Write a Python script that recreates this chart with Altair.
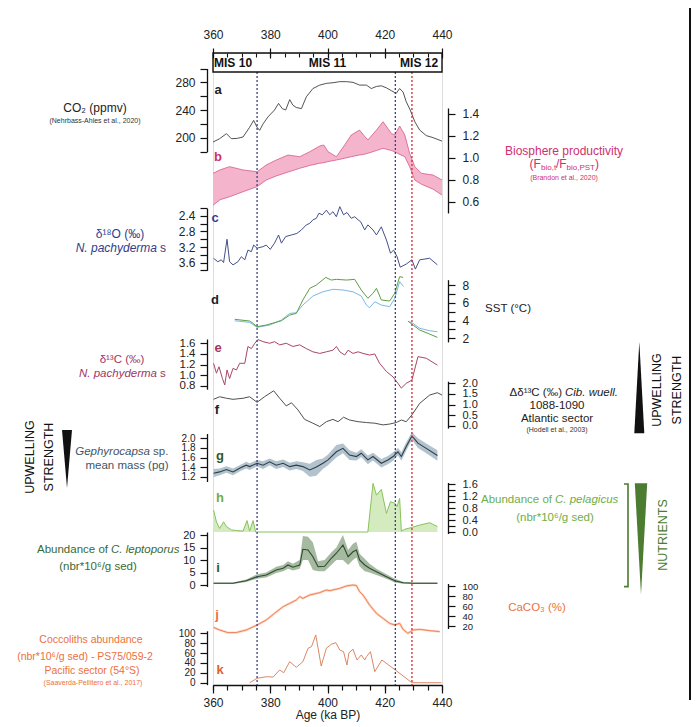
import json
import altair as alt
import pandas as pd

FONT = "Liberation Sans, Arial, DejaVu Sans, sans-serif"
X0, Y0 = 213, 53          # page position of the plot origin
W, H = 229, 632

# ---------------- data ----------------
co2_age = [360, 362.3, 364.7, 366.4, 368.5, 370.5, 372.8, 374.2, 375.4, 376.3, 377.5, 379.2, 381.5, 382.9, 384.2,
           385.4, 386.8, 387.9, 389.1, 390.9, 392.6, 394.9, 397.3, 399.6, 401.9, 404.3, 406.6, 408.9, 411.2, 413.6,
           415.3, 417.1, 418.8, 420.6, 422.3, 424.0, 425.2, 426.4, 427.5, 428.9, 430.5, 432.2, 434.5, 436.9, 440]
co2_val = [193.6, 198.5, 205.8, 198.5, 199, 201, 215, 225, 215, 210.6, 220, 230, 240, 249.5, 242,
           240, 255, 247, 243.6, 242, 259, 271, 276, 278.5, 279.4, 281, 281, 280, 276, 276,
           271, 274, 275, 272, 268, 264, 271, 266, 252, 240, 223, 211, 203, 200, 195]

bio_age = [360, 362.5, 365.8, 370.5, 375.4, 378.6, 382.1, 386.2, 390.3, 393.8, 397.3, 398.7, 400.2, 403.1, 406,
           408.3, 411.2, 412.6, 414.1, 417.1, 419.4, 422.3, 423.5, 425.2, 427, 428.7, 430.5, 432.8, 436.9, 440]
bio_hi = [0.859, 0.89, 0.919, 0.889, 0.873, 0.934, 0.979, 1.024, 1.009, 1.054, 1.106, 1.115, 1.054, 1.009, 1.115,
          1.205, 1.25, 1.205, 1.16, 1.25, 1.326, 1.22, 1.205, 1.287, 1.205, 1.04, 0.919, 0.859, 0.843, 0.798]
bio_lo = [0.57, 0.62, 0.647, 0.692, 0.738, 0.798, 0.835, 0.87, 0.904, 0.93, 0.95, 0.955, 0.965, 0.979, 0.995,
          1.009, 1.025, 1.03, 1.04, 1.065, 1.085, 1.065, 1.054, 1.03, 1.009, 0.919, 0.798, 0.76, 0.715, 0.662]

d18o_age = [360.2, 361.7, 362.9, 363.7, 364.9, 365.8, 367, 368.7, 369.9, 371.1, 372.2, 373.4, 374.2, 375.4, 377.5,
            378.6, 380, 381.5, 382.9, 383.9, 385.4, 387.4, 389.3, 390.9, 392.6, 393.8, 394.9, 396.1, 397, 398.2,
            399.6, 400.8, 401.9, 403.1, 404.3, 405.6, 406.8, 408.3, 409.5, 410.7, 411.6, 413, 414.1, 415.9, 417.1,
            418.8, 420.6, 422, 423.1, 424.3, 425.4, 427.5, 429.5, 430.7, 432.2, 435.7, 438.4]
d18o_val = [3.49, 3.58, 3.53, 3.60, 3.0, 3.58, 3.66, 3.58, 3.45, 3.53, 3.28, 3.32, 3.15, 3.23, 3.19,
            3.15, 3.26, 3.10, 2.89, 3.10, 2.93, 2.89, 2.85, 2.76, 2.63, 2.59, 2.50, 2.46, 2.33, 2.37,
            2.25, 2.37, 2.29, 2.42, 2.16, 2.37, 2.31, 2.46, 2.42, 2.5, 2.55, 2.76, 2.63, 2.76, 2.89,
            2.68, 3.02, 3.36, 3.28, 3.45, 3.72, 3.64, 3.53, 3.77, 3.53, 3.49, 3.66]

sstg_age = [367.6, 372.8, 374, 375.4, 378.6, 383.9, 386.8, 389.1, 391.4, 393.8, 396.1, 399.4, 401.3, 403.1, 406.6,
            409.5, 411.8, 414.1, 415.9, 417.1, 418.8, 421.7, 423.5, 425.2, 426.4, 428.1, 429.9, 432.2, 435.7, 438.4]
sstg_val = [4.14, 3.95, 3.69, 3.31, 3.50, 3.98, 4.62, 4.81, 6.32, 7.63, 8.0, 8.86, 8.56, 8.64, 8.56,
            8.64, 7.44, 6.51, 7.07, 7.63, 6.32, 6.20, 7.07, 8.94, 8.86, 3.95, 3.50, 2.94, 2.48, 2.11]
sstb_age = [367.6, 372.8, 375.4, 379.8, 383.9, 386.8, 389.1, 391.4, 394.9, 398.4, 401.9, 405.4, 408.9, 411.8,
            413.6, 414.7, 416.5, 418.8, 421.7, 423.5, 425.2, 426.6, 428.5, 429.9, 432.2, 435.7, 438.4]
sstb_val = [3.98, 3.80, 3.24, 3.50, 4.06, 4.81, 4.88, 5.75, 6.76, 7.24, 7.52, 7.44, 7.24, 6.76,
            5.75, 5.44, 6.12, 5.75, 5.56, 6.51, 8.38, 7.82, 3.87, 3.69, 3.13, 2.86, 2.74]

d13c_age = [360.2, 361.2, 362.1, 363.3, 364.1, 364.9, 365.8, 367, 368.2, 369.3, 371.1, 372.2, 373.4, 374.6, 375.7,
            377.5, 379.8, 381.5, 383.3, 385.6, 387.9, 390.3, 392.6, 394.9, 397.3, 399.6, 401.9, 403.1, 404.3, 406,
            407.2, 408.9, 410.7, 412.4, 414.7, 416.5, 418.2, 420.6, 422.9, 424.6, 425.8, 427.5, 429.5, 431.6, 434.5,
            438.4]
d13c_val = [1.225, 1.04, 1.16, 0.94, 0.82, 1.1, 0.94, 1.13, 1.1, 1.225, 1.225, 1.54, 1.5, 1.6, 1.67,
            1.63, 1.6, 1.63, 1.57, 1.6, 1.54, 1.57, 1.5, 1.44, 1.41, 1.44, 1.47, 1.54, 1.44, 1.38,
            1.47, 1.41, 1.44, 1.41, 1.38, 1.40, 1.225, 1.07, 0.97, 0.85, 0.76, 0.85, 0.91, 1.35, 1.32,
            1.19]

dd13c_age = [360.2, 362.3, 364.7, 367, 370.5, 372.8, 375.4, 378, 381.2, 383.3, 385.6, 387.4, 389.7, 392, 394.9,
             397.3, 399.6, 401.9, 403.7, 405.6, 407.7, 410.7, 413.6, 416.5, 419.4, 421.7, 424, 425.8, 427.5, 429.5,
             432.2, 435.7, 438.4, 440]
dd13c_val = [1.25, 1.37, 1.3, 1.25, 1.3, 1.37, 1.11, 1.37, 1.65, 1.3, 0.94, 1.09, 0.75, 0.31, 0.13,
             -0.03, 0.2, 0.31, 0.2, 0.41, 0.28, 0.2, 0.16, 0.13, 0.05, 0.09, 0.16, 0.28, 0.2, 0.52,
             1.06, 1.45, 1.56, 1.45]

geph_age = [360.2, 362.3, 364.7, 367, 369.3, 371.6, 372.8, 375.4, 377.5, 379.8, 382.1, 384.5, 386.8, 389.1, 391.4,
            393.8, 396.1, 398.4, 400.2, 403.1, 405.4, 407.7, 410.1, 411.8, 414.1, 415.9, 418.8, 421.1, 422.9, 424.6,
            425.8, 427.5, 429.5, 431.6, 434.5, 438.4]
geph_val = [1.27, 1.30, 1.35, 1.30, 1.375, 1.44, 1.41, 1.48, 1.44, 1.51, 1.44, 1.48, 1.41, 1.44, 1.41,
            1.34, 1.40, 1.48, 1.55, 1.72, 1.79, 1.65, 1.62, 1.69, 1.55, 1.62, 1.48, 1.55, 1.62, 1.72,
            1.62, 1.83, 2.05, 1.90, 1.79, 1.64]
geph_hi = [1.36, 1.37, 1.42, 1.37, 1.44, 1.51, 1.48, 1.55, 1.52, 1.58, 1.52, 1.56, 1.49, 1.52, 1.50,
           1.47, 1.55, 1.58, 1.66, 1.86, 1.89, 1.75, 1.70, 1.77, 1.64, 1.70, 1.57, 1.63, 1.71, 1.80,
           1.71, 1.92, 2.13, 2.00, 1.89, 1.75]
geph_lo = [1.19, 1.23, 1.28, 1.23, 1.31, 1.37, 1.34, 1.41, 1.36, 1.44, 1.36, 1.40, 1.33, 1.36, 1.32,
           1.20, 1.22, 1.36, 1.44, 1.60, 1.69, 1.55, 1.54, 1.61, 1.46, 1.54, 1.39, 1.46, 1.53, 1.64,
           1.53, 1.74, 1.97, 1.80, 1.69, 1.53]

pel_age = [360.2, 361.2, 362.3, 363.7, 364.7, 366.4, 368.2, 370.5, 371.9, 372.8, 374, 374.9, 414.1, 415.9, 417.1,
           418.8, 420.6, 422, 423.5, 424.3, 425.2, 425.8, 427, 429.3, 432.2, 435.7, 438.4]
pel_val = [0.73, 0.34, 0.12, 0.34, 0.18, 0.07, 0.05, 0.03, 0.38, 0.03, 0.38, 0.0, 0.0, 1.62, 1.23,
           1.42, 0.62, 1.01, 0.96, 0.85, 1.12, 0.03, 0.09, 0.15, 0.23, 0.31, 0.18]

lep_age = [360.2, 367, 371.6, 375.4, 378.6, 382.1, 384.5, 386.2, 387.9, 390.3, 391.4, 393.2, 394.9, 396.7, 399,
           401.3, 403.1, 405.4, 407.2, 408.9, 410.1, 411.2, 413, 414.7, 417.1, 420.6, 423.5, 426.4, 429.9, 438.4]
lep_val = [0.7, 0.7, 1.7, 3.3, 4, 6, 6.7, 8, 7.1, 8, 14.3, 14, 11.3, 7.3, 7.5,
           10.7, 12.7, 16, 11.3, 13.3, 14, 10, 8, 6.7, 5.3, 3.3, 1.7, 0.9, 0.7, 0.7]
lep_hi = [1.0, 1.0, 2.2, 4.3, 5.0, 7.3, 8.0, 9.5, 8.5, 10.0, 19.6, 19.3, 17.0, 9.5, 10.0,
          13.0, 15.0, 20.0, 14.0, 16.5, 17.3, 12.5, 10.5, 8.5, 6.5, 4.3, 2.5, 1.3, 1.0, 1.0]
lep_lo = [0.4, 0.4, 1.2, 2.5, 3.0, 4.8, 5.5, 6.5, 5.8, 6.5, 10.0, 10.0, 6.0, 5.5, 5.5,
          8.0, 10.0, 10.0, 8.0, 10.0, 11.0, 7.5, 5.5, 5.0, 4.0, 2.5, 1.0, 0.5, 0.4, 0.4]

caco3_age = [360.2, 362.3, 365.2, 368.2, 371.6, 375.4, 378.6, 381.5, 384.5, 386.8, 389.1, 390.3, 391.4, 393.8,
             397.3, 399.6, 400.8, 404.3, 406.6, 408.9, 410.1, 411.2, 412.4, 414.7, 417.1, 419.4, 421.7, 423.5,
             425.2, 426.4, 428.1, 429.9, 432.2, 435.7, 439.2]
caco3_val = [17.3, 12, 6.7, 7, 12, 22, 32, 45.3, 58.7, 65.3, 72, 78.7, 75.3, 82,
             86.7, 92, 90.7, 95.3, 100, 102, 101, 88.7, 82, 62, 45.3, 35.3, 25.3, 22,
             25.3, 13.3, 5.3, 12, 13.3, 10.7, 8.7]

cocco_age = [372.8, 375.4, 378.6, 381, 383.3, 384.7, 386.8, 389.1, 391.4, 393.2, 394.4, 395.9, 397.8, 399.6, 401.3,
             402.9, 404.3, 405.6, 406.8, 407.5, 408.9, 410.3, 411.8, 413, 413.6, 415, 416.5, 419, 423.7, 429.5,
             432.2, 439.8]
cocco_val = [0, 8.9, 12.1, 11.5, 25.7, 20.2, 42.5, 31.2, 42.5, 69.6, 72.9, 96.6, 33.8, 69.6, 77.7,
             81, 66.2, 62.8, 35.8, 60.7, 67.6, 46, 56.1, 46, 52.6, 62.8, 22.3, 46, 25.7, 0,
             0, 0]

mis_labels = ["MIS 10", "MIS 11", "MIS 12"]
mis_age = [367, 400, 432]
boundary_age = [375.4, 423.7, 429.5]
boundary_color = ["#3a3f8a", "#3a3f8a", "#d8262a"]

x_major = [360, 380, 400, 420, 440]
x_minor = [360, 365, 370, 375, 380, 385, 390, 395, 400, 405, 410, 415, 420, 425, 430, 435, 440]

co2_ticks = [180, 200, 220, 240, 260, 280, 300]
co2_labels = ["200", "240", "280"]
bio_ticks = [0.6, 0.8, 1.0, 1.2, 1.4]
bio_labels = ["0.6", "0.8", "1.0", "1.2", "1.4"]
d18o_ticks = [2.2, 2.4, 2.6, 2.8, 3.0, 3.2, 3.4, 3.6, 3.8]
d18o_labels = ["2.4", "2.8", "3.2", "3.6"]
sst_ticks = [2, 3, 4, 5, 6, 7, 8]
sst_labels = ["2", "4", "6", "8"]
d13c_ticks = [0.8, 1.0, 1.2, 1.4, 1.6]
d13c_labels = ["0.8", "1.0", "1.2", "1.4", "1.6"]
dd13c_ticks = [0.0, 0.5, 1.0, 1.5, 2.0]
dd13c_labels = ["0.0", "0.5", "1.0", "1.5", "2.0"]
geph_ticks = [1.2, 1.4, 1.6, 1.8, 2.0]
geph_labels = ["1.2", "1.4", "1.6", "1.8", "2.0"]
pel_ticks = [0.0, 0.2, 0.4, 0.6, 0.8, 1.0, 1.2, 1.4, 1.6]
pel_labels = ["0.0", "0.4", "0.8", "1.2", "1.6"]
lep_ticks = [0, 5, 10, 15, 20]
lep_labels = ["0", "5", "10", "15", "20"]
caco3_ticks = [20, 40, 60, 80, 100]
caco3_labels = ["20", "40", "60", "80", "100"]
cocco_ticks = [0, 20, 40, 60, 80, 100]
cocco_labels = ["0", "20", "40", "60", "80", "100"]

# colours
PINK = "#d0306e"
NAVY = "#2f3c8c"
MAROON = "#a23561"
SLATE = "#3f5566"
DKGREEN = "#3a6a34"
LTGREEN = "#6fae45"
ORANGE = "#ec7040"
NUTGREEN = "#4b7c2f"

# ---------------- helpers ----------------
XS = alt.Scale(domain=[360, 440], nice=False, zero=False)


def ys(domain, page_lo, page_hi):
    return alt.Scale(domain=domain, range=[page_lo - Y0, page_hi - Y0], nice=False, zero=False)


def yaxis(side, ticks, labels, fmt, size=11):
    expr = "indexof(" + json.dumps(labels) + ", datum.label) >= 0 ? datum.label : ''"
    return alt.Axis(orient=side, offset=6, values=ticks, format=fmt, labelExpr=expr, title=None, grid=False,
                    tickSize=7, labelPadding=5 if side == "left" else 7, labelFontSize=size, labelFont=FONT,
                    labelColor="#222", domainColor="#111", tickColor="#111", domainWidth=1.3, tickWidth=1.2,
                    labelOverlap=False, labelBaseline="middle")


def X(field="age", axis=None):
    return alt.X(field + ":Q", scale=XS, axis=axis)


def frame(age, **cols):
    d = {"age": age}
    d.update(cols)
    return pd.DataFrame(d)


def line(df, field, scale, color, width=1.0, axis=None, detail=None, opacity=1.0):
    enc = dict(x=X(), y=alt.Y(field + ":Q", scale=scale, axis=axis))
    if detail:
        enc["detail"] = detail
    return alt.Chart(df).mark_line(color=color, strokeWidth=width, opacity=opacity).encode(**enc)


def band(df, hi, lo, scale, color, axis=None, opacity=1.0):
    return alt.Chart(df).mark_area(color=color, opacity=opacity).encode(
        x=X(), y=alt.Y(hi + ":Q", scale=scale, axis=axis), y2=alt.Y2(lo + ":Q"))


def ann(rows, align="center", style="normal", weight="normal", angle=0):
    df = pd.DataFrame(rows, columns=["t", "x", "y", "c", "s"])
    df["x"] = df["x"] - X0
    df["y"] = df["y"] - Y0
    return alt.Chart(df).mark_text(align=align, baseline="middle", fontStyle=style, fontWeight=weight,
                                   angle=angle, font=FONT).encode(
        x=alt.X("x:Q", scale=None, axis=None), y=alt.Y("y:Q", scale=None, axis=None),
        text=alt.Text("t:N"), color=alt.Color("c:N", scale=None, legend=None),
        size=alt.Size("s:Q", scale=None, legend=None))


def glyph(path, cx, cy, span, color, filled=True, width=1.5):
    df = pd.DataFrame({"x": [cx - X0], "y": [cy - Y0], "s": [span * span]})
    mk = alt.Chart(df).mark_point(shape=path, filled=filled, opacity=1, color=color,
                                  strokeWidth=0 if filled else width)
    return mk.encode(x=alt.X("x:Q", scale=None, axis=None), y=alt.Y("y:Q", scale=None, axis=None),
                     size=alt.Size("s:Q", scale=None, legend=None))


layers = []

# a: CO2
s_a = ys([180, 300], 151.5, 68.5)
layers.append(line(frame(co2_age, v=co2_val), "v", s_a, "#404040", 0.9,
                   axis=yaxis("left", co2_ticks, co2_labels, "d", 12)))

# b: biosphere productivity
s_b = ys([0.5, 1.45], 212.95, 107.98)
df_b = frame(bio_age, hi=bio_hi, lo=bio_lo)
layers.append(band(df_b, "hi", "lo", s_b, "#f4b4cc", axis=yaxis("right", bio_ticks, bio_labels, ".1f", 12)))
layers.append(line(df_b, "hi", s_b, "#d45b8c", 0.8))
layers.append(line(df_b, "lo", s_b, "#d45b8c", 0.8))

# c: d18O (reversed)
s_c = ys([2.2, 3.8], 208.2, 270.3)
layers.append(line(frame(d18o_age, v=d18o_val), "v", s_c, "#45508a", 1.0,
                   axis=yaxis("left", d18o_ticks, d18o_labels, ".1f", 12)))

# d: SST
s_d = ys([1.6, 8.6], 341.9, 279.7)
df_g = frame(sstg_age, v=sstg_val)
df_g["seg"] = (df_g["age"] > 427).astype(int)
df_bl = frame(sstb_age, v=sstb_val)
df_bl["seg"] = (df_bl["age"] > 427).astype(int)
layers.append(line(df_bl, "v", s_d, "#7ab8e6", 1.0, axis=yaxis("right", sst_ticks, sst_labels, "d", 12),
                   detail="seg:N"))
layers.append(line(df_g, "v", s_d, "#5c9e45", 1.0, detail="seg:N"))

# e: d13C
s_e = ys([0.74, 1.68], 389.2, 339.0)
layers.append(line(frame(d13c_age, v=d13c_val), "v", s_e, "#a8466a", 1.0,
                   axis=yaxis("left", d13c_ticks, d13c_labels, ".1f", 11.5)))

# f: Delta d13C
s_f = ys([-0.1, 2.1], 428.1, 381.2)
layers.append(line(frame(dd13c_age, v=dd13c_val), "v", s_f, "#505050", 1.0,
                   axis=yaxis("right", dd13c_ticks, dd13c_labels, ".1f", 11)))

# g: Gephyrocapsa mass
s_g = ys([1.1, 2.1], 481.5, 433.5)
df_ge = frame(geph_age, v=geph_val, hi=geph_hi, lo=geph_lo)
layers.append(band(df_ge, "hi", "lo", s_g, "#b3c3cd", axis=yaxis("left", geph_ticks, geph_labels, ".1f", 10)))
layers.append(line(df_ge, "v", s_g, "#2f3e4c", 1.1))

# h: C. pelagicus
s_h = ys([-0.05, 1.65], 533.5, 482.5)
df_p = frame(pel_age, v=pel_val, base=[0.0] * len(pel_age))
layers.append(band(df_p, "v", "base", s_h, "#d4ebc0", axis=yaxis("right", pel_ticks, pel_labels, ".1f", 11)))
layers.append(line(df_p, "v", s_h, "#86c25c", 1.0))

# i: C. leptoporus
s_i = ys([-0.6, 21.2], 586.5, 532.0)
df_l = frame(lep_age, v=lep_val, hi=lep_hi, lo=lep_lo)
layers.append(band(df_l, "hi", "lo", s_i, "#a6b9a1", axis=yaxis("left", lep_ticks, lep_labels, "d", 11)))
layers.append(line(df_l, "v", s_i, "#2e4c2e", 1.1))

# j: CaCO3
s_j = ys([15, 105], 628.5, 583.5)
df_c = frame(caco3_age, v=caco3_val)
layers.append(line(df_c, "v", s_j, "#fbd3c0", 2.4, axis=yaxis("right", caco3_ticks, caco3_labels, "d", 9.5)))
layers.append(line(df_c, "v", s_j, "#ef7b4d", 0.9))

# k: coccolith abundance PS75/059-2  (also carries the minor bottom ticks)
s_k = ys([-4, 105], 684.7, 630.8)
layers.append(alt.Chart(frame(cocco_age, v=cocco_val)).mark_line(color="#d77a55", strokeWidth=0.9).encode(
    x=X(axis=alt.Axis(orient="bottom", values=x_minor, labels=False, tickSize=5, domain=True, grid=False,
                      title=None, domainColor="#111", tickColor="#111", domainWidth=1.3, tickWidth=1.2)),
    y=alt.Y("v:Q", scale=s_k, axis=yaxis("left", cocco_ticks, cocco_labels, "d", 10))))

# vertical stage boundaries (carry the labelled bottom axis)
df_v = pd.DataFrame({"age": boundary_age, "col": boundary_color})
layers.append(alt.Chart(df_v).mark_rule(strokeDash=[2, 2], strokeWidth=1.3).encode(
    x=X(axis=alt.Axis(orient="bottom", values=x_major, format="d", tickSize=8, labelPadding=4,
                      labelFontSize=12, labelFont=FONT, labelColor="#222", labelFlush=False, domain=False,
                      grid=False, title="Age (ka BP)", titleFont=FONT, titleFontSize=12,
                      titleFontWeight="normal", titleColor="#222", titlePadding=1, tickColor="#111",
                      tickWidth=1.2)),
    y=alt.value(72 - Y0), y2=alt.value(685 - Y0),
    color=alt.Color("col:N", scale=None, legend=None)))

# MIS box on top (carries labelled top axis)
df_box = pd.DataFrame({"start": [360], "end": [440]})
layers.append(alt.Chart(df_box).mark_rect(fillOpacity=0, stroke="#111", strokeWidth=1.4).encode(
    x=alt.X("start:Q", scale=XS, axis=alt.Axis(orient="top", values=x_major, format="d", offset=-5, tickSize=10,
                                               labelPadding=7, labelFontSize=12, labelFont=FONT,
                                               labelColor="#222", labelFlush=False, domain=False, grid=False,
                                               title=None, tickColor="#111", tickWidth=1.2)),
    x2="end:Q", y=alt.value(0), y2=alt.value(72 - Y0)))

df_mis = pd.DataFrame({"age": mis_age, "t": mis_labels})
layers.append(alt.Chart(df_mis).mark_text(fontWeight="bold", fontSize=12, font=FONT, color="#111",
                                          baseline="middle").encode(
    x=X(axis=alt.Axis(orient="top", values=x_minor, labels=False, offset=-4, tickSize=4, domain=False,
                      grid=False, title=None, tickColor="#111", tickWidth=1.1)),
    y=alt.value(63 - Y0), text="t:N"))

# right-hand figure border
df_frame = pd.DataFrame({"k": [0]})
layers.append(alt.Chart(df_frame).mark_rule(color="#111", strokeWidth=2).encode(
    x=alt.value(690 - X0), y=alt.value(8 - Y0), y2=alt.value(700 - Y0)))

# panel letters
layers.append(ann([
    ("a", 218, 90, "#222", 13), ("b", 218, 157, PINK, 13), ("c", 215, 218, NAVY, 13),
    ("d", 215, 300, "#222", 13), ("e", 218, 348, MAROON, 13), ("f", 217, 410, "#222", 13),
    ("g", 220, 456, "#2d5a2d", 13), ("h", 220, 498, LTGREEN, 13), ("i", 218, 568, "#2d5a2d", 13),
    ("j", 217, 615, ORANGE, 13), ("k", 220, 670, "#e0602e", 13)], weight="bold"))

# centred labels
layers.append(ann([
    ("CO₂ (ppmv)", 95, 108, "#222", 12),
    ("(Nehrbass-Ahles et al., 2020)", 95, 121, "#333", 7),
    ("δ¹⁸O (‰)", 120, 234, NAVY, 12),
    ("δ¹³C (‰)", 122, 360, MAROON, 11.5),
    ("mean mass (pg)", 127, 466, SLATE, 11.5),
    ("(nbr*10⁶/g sed)", 98, 567, DKGREEN, 11.5),
    ("Coccoliths abundance", 91, 640, ORANGE, 10.5),
    ("(nbr*10⁶/g sed) - PS75/059-2", 85, 657, ORANGE, 10.5),
    ("Pacific sector (54°S)", 92, 671, ORANGE, 10.5),
    ("(Saaverda-Pellitero et al., 2017)", 93, 683, ORANGE, 7),
    ("Biosphere productivity", 564, 151, PINK, 12),
    ("(Brandon et al., 2020)", 564, 178, PINK, 7),
    ("SST (°C)", 508, 309, "#222", 11.5),
    ("1088-1090", 557, 406, "#222", 11.5),
    ("Atlantic sector", 557, 419, "#222", 11.5),
    ("(Hodell et al., 2003)", 557, 430, "#333", 7),
    ("(nbr*10⁶/g sed)", 555, 518, LTGREEN, 11.5),
    ("CaCO₃ (%)", 537, 608, ORANGE, 11.5)]))

# left-aligned normal pieces
layers.append(ann([
    ("s", 160, 248, NAVY, 12), ("s", 160, 373.5, MAROON, 11.5), ("sp.", 153, 452, SLATE, 11.5),
    ("(F", 529.5, 164, PINK, 12), ("/F", 556, 164, PINK, 12), (")", 595, 164, PINK, 12)], align="left"))
layers.append(ann([
    ("bio,t", 541, 167.5, PINK, 8), ("bio,PST", 566.5, 167.5, PINK, 8)], align="left"))
# right-aligned normal pieces
layers.append(ann([
    ("Abundance of", 108, 550, DKGREEN, 11.5), ("Abundance of", 552, 500, LTGREEN, 11.5),
    ("Δδ¹³C (‰)", 562, 393, "#222", 11.5)], align="right"))
# italic pieces
layers.append(ann([
    ("N. pachyderma", 157, 248, NAVY, 12), ("N. pachyderma", 157, 373.5, MAROON, 11.5),
    ("Gephyrocapsa", 150, 452, SLATE, 11.5)], align="right", style="italic"))
layers.append(ann([
    ("C. leptoporus", 111, 550, DKGREEN, 11.5), ("C. pelagicus", 555, 500, LTGREEN, 11.5),
    ("Cib. wuell.", 565, 393, "#222", 11.5)], align="left", style="italic"))
# rotated labels
layers.append(ann([
    ("UPWELLING", 30, 457, "#111", 12.5), ("STRENGTH", 49, 457, "#111", 12.5),
    ("UPWELLING", 657, 390, "#111", 12.5), ("STRENGTH", 677, 390, "#111", 12.5),
    ("NUTRIENTS", 663, 535, NUTGREEN, 12.5)], angle=270))

# wedges and bracket
layers.append(glyph("M -0.172 -1 L 0.172 -1 L 0 1 Z", 67, 459, 58, "#111"))
layers.append(glyph("M 0 -1 L 0.109 1 L -0.109 1 Z", 639.3, 387.5, 91.6, "#111"))
layers.append(glyph("M -0.111 -1 L 0.111 -1 L 0 1 Z", 641, 539, 111.7, NUTGREEN))
layers.append(glyph("M -0.078 -1 L 0 -1 L 0 1 L -0.078 1", 628, 535.3, 102.7, NUTGREEN, filled=False, width=1.6))

chart = alt.layer(*layers).resolve_scale(y="independent").resolve_axis(y="independent", x="independent").properties(
    width=W, height=H,
    autosize=alt.AutoSizeParams(type="none"),
    padding={"left": X0 - 8, "top": Y0 - 8, "right": 249, "bottom": 40},
).configure_view(stroke=None).configure(font=FONT)

chart.save("out.html", embed_options={"renderer": "svg", "actions": False})
